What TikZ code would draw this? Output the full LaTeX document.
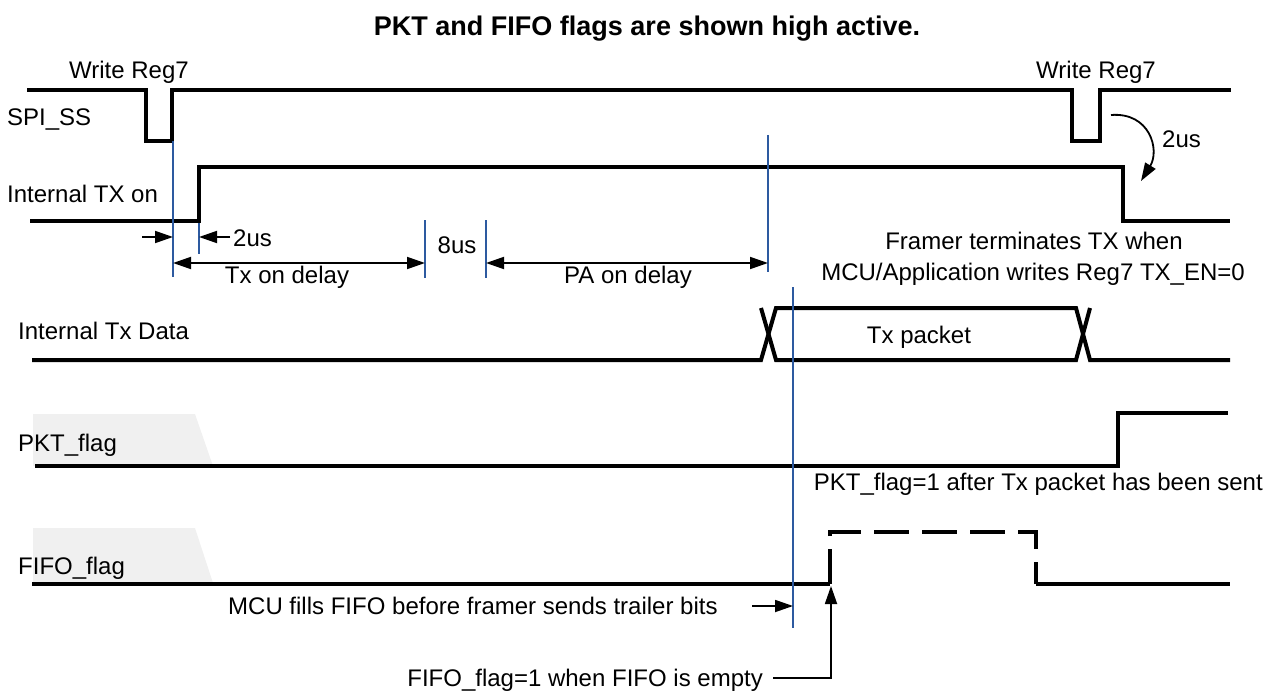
\documentclass[tikz,border=0pt]{standalone}
\usepackage{fontspec}
\setmainfont{Liberation Sans}
\usetikzlibrary{arrows.meta}
\definecolor{markblue}{RGB}{45,90,160}
\definecolor{flagshade}{RGB}{240,240,240}
\begin{document}
\begin{tikzpicture}[x=1pt,y=-1pt,
  sig/.style={line width=4pt, line join=miter, line cap=butt},
  vmark/.style={draw=markblue, line width=1.6pt},
  arr/.style={line width=1.8pt, -{Triangle[length=18pt,width=12pt]}},
  darr/.style={line width=1.8pt, {Triangle[length=18pt,width=12pt]}-{Triangle[length=18pt,width=12pt]}},
  lbl/.style={font=\fontsize{24}{28}\selectfont, inner sep=0pt, text height=17pt, text depth=5pt},
  ttl/.style={font=\bfseries\fontsize{27}{32}\selectfont, inner sep=0pt},
  flagbox/.style={fill=flagshade, draw=none}]
\useasboundingbox (0,0) rectangle (1279,695);

% title
\node[ttl] (title) at (647,29) {PKT and FIFO flags are shown high active.};

% shaded trapezoids behind flag labels
\fill[flagbox] (33,414) -- (195,414) -- (213,466) -- (33,466) -- cycle;
\fill[flagbox] (33,528) -- (195,528) -- (213,583) -- (33,583) -- cycle;

% signal labels
\node[lbl,anchor=west] (wr1) at (69,73) {Write Reg7};
\node[lbl,anchor=west] (wr2) at (1036,73) {Write Reg7};
\node[lbl,anchor=west] (lss) at (7,120) {SPI\_SS};
\node[lbl,anchor=west] (ltx) at (7,197) {Internal TX on};
\node[lbl,anchor=west] (ldata) at (18,333) {Internal Tx Data};
\node[lbl,anchor=west] (lpkt) at (18,445) {PKT\_flag};
\node[lbl,anchor=west] (lfifo) at (18,568) {FIFO\_flag};

% waveforms
\draw[sig] (27,90) -- (146,90) -- (146,141) -- (172,141) -- (172,90) -- (1072,90)
  -- (1072,141) -- (1100,141) -- (1100,90) -- (1231,90);
\draw[sig] (30,221) -- (199,221) -- (199,167) -- (1123,167) -- (1123,221) -- (1230,221);
\draw[sig] (32,360) -- (761,360) -- (776,308) -- (1076,308) -- (1090,360) -- (1230,360);
\draw[sig] (761,308) -- (776,360) -- (1076,360) -- (1090,308);
\draw[sig] (35,466) -- (1118,466) -- (1118,413) -- (1228,413);
\draw[sig] (32,584) -- (830,584);
\draw[sig, dash pattern=on 35pt off 13pt] (830,584) -- (830,532) -- (1036,532) -- (1036,584);
\draw[sig] (1036,584) -- (1230,584);

% blue markers
\draw[vmark] (173,141) -- (173,277);
\draw[vmark] (199,223) -- (199,254);
\draw[vmark] (425,220) -- (425,278);
\draw[vmark] (486,220) -- (486,278);
\draw[vmark] (768,135) -- (768,272);
\draw[vmark] (793,287) -- (793,628);

% arrow end points
\coordinate (a1s) at (142,237);
\coordinate (a1e) at (173,237);
\coordinate (a2s) at (230,237);
\coordinate (a2e) at (199,237);
\coordinate (d1s) at (173,263);
\coordinate (d1e) at (425,263);
\coordinate (d2s) at (486,263);
\coordinate (d2e) at (768,263);
\coordinate (c1s) at (1111,115);
\coordinate (c1e) at (1141,181);
\coordinate (m1s) at (752,606);
\coordinate (m1e) at (793,606);
\coordinate (f1s) at (773,678);
\coordinate (f1c) at (831,678);
\coordinate (f1e) at (831,586);

\draw[arr] (a1s) -- (a1e);
\draw[arr] (a2s) -- (a2e);
\draw[darr] (d1s) -- (d1e);
\draw[darr] (d2s) -- (d2e);
\draw[arr] (c1s) .. controls (1150,112) and (1160,150) .. (c1e);
\draw[arr] (m1s) -- (m1e);
\draw[arr] (f1s) -- (f1c) -- (f1e);

% annotations
\node[lbl,anchor=west] (t2us) at (233,240) {2us};
\node[lbl] (t8us) at (457,247) {8us};
\node[lbl] (ttxd) at (287,277) {Tx on delay};
\node[lbl] (tpad) at (628,277) {PA on delay};
\node[lbl,anchor=west] (t2us2) at (1162,142) {2us};
\node[lbl] (tfr1) at (1034,243) {Framer terminates TX when};
\node[lbl,anchor=east] (tfr2) at (1245,274) {MCU/Application writes Reg7 TX\_EN=0};
\node[lbl] (tpkt) at (919,337) {Tx packet};
\node[lbl,anchor=east] (tpktf) at (1263,484) {PKT\_flag=1 after Tx packet has been sent};
\node[lbl,anchor=west] (tmcu) at (228,608) {MCU fills FIFO before framer sends trailer bits};
\node[lbl,anchor=east] (tfifo) at (763,680) {FIFO\_flag=1 when FIFO is empty};
\end{tikzpicture}
\end{document}
